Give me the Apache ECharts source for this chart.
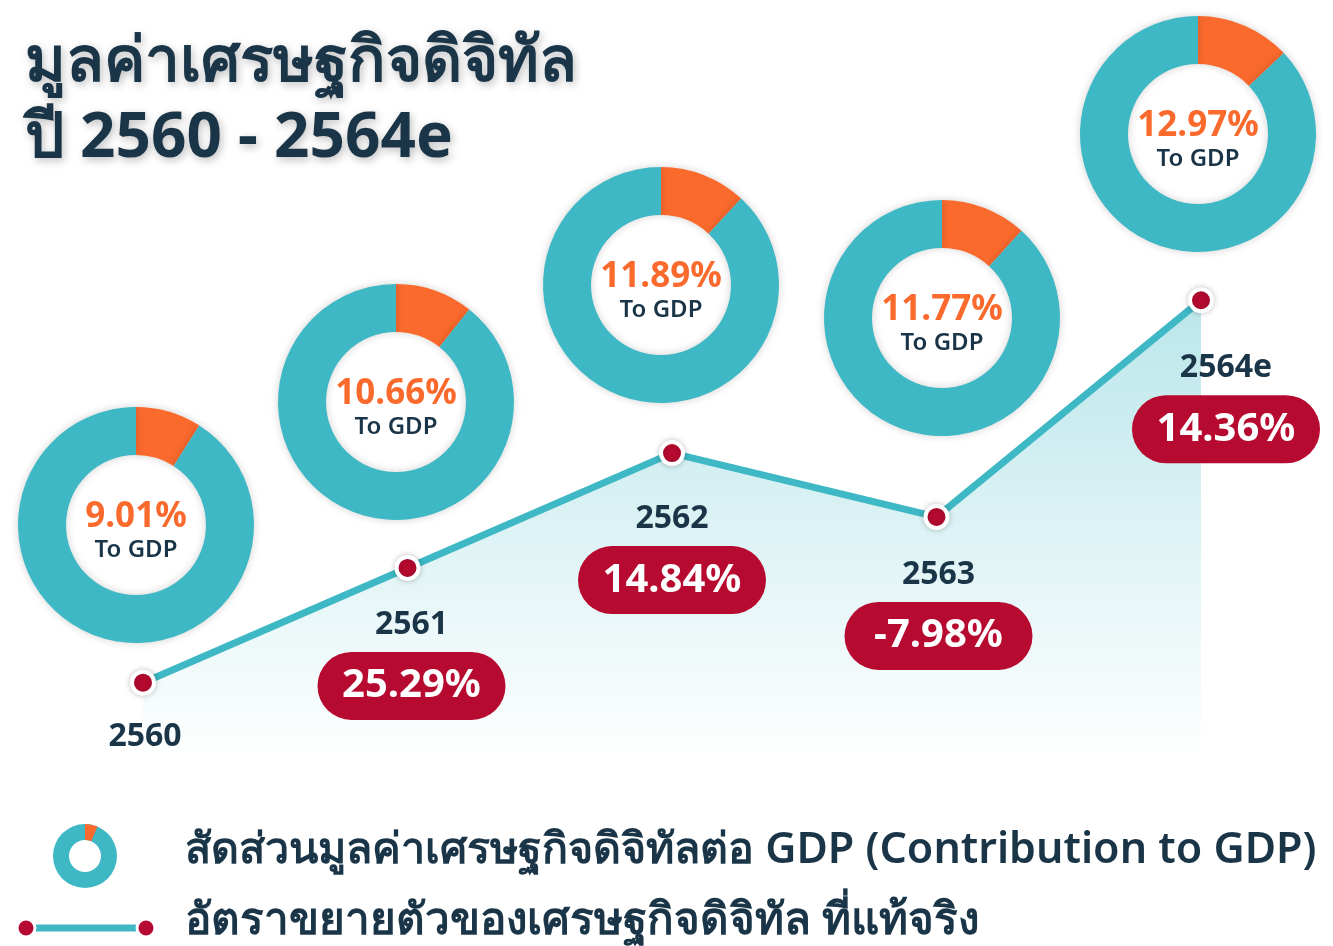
<!DOCTYPE html>
<html>
<head>
<meta charset="utf-8">
<title>มูลค่าเศรษฐกิจดิจิทัล</title>
<script src="https://cdn.jsdelivr.net/npm/echarts@6/dist/echarts.min.js"></script>
<style>
  html, body { margin: 0; padding: 0; background: #fff; }
  #chart { width: 1333px; height: 946px; }
</style>
</head>
<body>
<div id="chart"></div>
<script>
// ปี
var years = ['2560', '2561', '2562', '2563', '2564e'];
// สัดส่วนต่อ GDP (%)
var gdpShare = [9.01, 10.66, 11.89, 11.77, 12.97];
// อัตราขยายตัวที่แท้จริง (%) - 2560 ไม่มีค่า
var growth = [null, 25.29, 14.84, -7.98, 14.36];
// ระดับของเส้น (ดัชนีอ่านจากภาพ)
var lineLevel = [13.8, 34.3, 54.8, 43.4, 82.1];

var NAVY = '#1b3548';
var TEAL = '#3db8c4';
var ORANGE = '#fb6a2d';
var RED = '#b70a30';
var FONT = '"Noto Sans", sans-serif';

// วางโดนัทแต่ละปี
var donutCenters = [[136, 525], [396, 402], [661, 285], [942, 318], [1198, 134]];
// ระยะเลื่อนป้ายปี/อัตราขยายตัว
var labelOffsets = [[2, -3], [4, 0], [0, 9], [2, 1], [25, 11]];

var chart = echarts.init(document.getElementById('chart'));

var pieSeries = gdpShare.map(function (v, i) {
  return {
    type: 'pie',
    center: donutCenters[i],
    radius: [70, 118],
    startAngle: 90,
    silent: true,
    z: 3,
    itemStyle: { shadowBlur: 8, shadowColor: 'rgba(0,0,0,0.18)' },
    labelLine: { show: false },
    data: [
      {
        value: v,
        itemStyle: { color: ORANGE },
        label: {
          show: true,
          position: 'center',
          offset: [0, 6],
          formatter: '{p|' + v.toFixed(2) + '%}\n{t|To GDP}',
          rich: {
            p: { fontFamily: FONT, fontSize: 35, fontWeight: 'bold', color: ORANGE, lineHeight: 38 },
            t: { fontFamily: FONT, fontSize: 24, fontWeight: 600, color: NAVY, lineHeight: 28 }
          }
        }
      },
      { value: 100 - v, itemStyle: { color: TEAL }, label: { show: false } }
    ]
  };
});

var lineData = lineLevel.map(function (v, i) {
  return {
    value: v,
    label: { offset: labelOffsets[i] }
  };
});

chart.setOption({
  backgroundColor: '#fff',
  animation: false,
  title: {
    text: 'มูลค่าเศรษฐกิจดิจิทัล\nปี 2560 - 2564e',
    left: 20,
    top: 20,
    textStyle: {
      fontFamily: FONT,
      fontSize: 62,
      fontWeight: 'bold',
      color: NAVY,
      lineHeight: 76,
      textShadowColor: 'rgba(0,0,0,0.25)',
      textShadowBlur: 8,
      textShadowOffsetX: 2,
      textShadowOffsetY: 3
    }
  },
  grid: { left: 143, right: 132, top: 200, bottom: 186 },
  xAxis: {
    type: 'category',
    data: years,
    boundaryGap: false,
    show: false
  },
  yAxis: {
    type: 'value',
    min: 0,
    max: 100,
    show: false
  },
  series: [
    {
      type: 'line',
      data: lineData,
      z: 4,
      symbol: 'circle',
      symbolSize: 22,
      lineStyle: { color: TEAL, width: 7 },
      itemStyle: {
        color: RED,
        borderColor: '#fff',
        borderWidth: 4,
        shadowBlur: 6,
        shadowColor: 'rgba(0,0,0,0.2)'
      },
      areaStyle: {
        color: new echarts.graphic.LinearGradient(0, 0, 0, 1, [
          { offset: 0, color: 'rgba(61,184,196,0.5)' },
          { offset: 1, color: 'rgba(61,184,196,0)' }
        ])
      },
      label: {
        show: true,
        position: 'bottom',
        distance: 7,
        align: 'center',
        formatter: function (p) {
          var g = growth[p.dataIndex];
          var s = '{y|' + years[p.dataIndex] + '}';
          if (g !== null) {
            s += '\n{b|' + g.toFixed(2) + '%}';
          }
          return s;
        },
        rich: {
          y: { fontFamily: FONT, fontSize: 32, fontWeight: 'bold', color: NAVY, lineHeight: 74, align: 'center' },
          b: {
            fontFamily: FONT, fontSize: 40, fontWeight: 'bold', color: '#fff',
            backgroundColor: RED, borderRadius: 34,
            width: 188, height: 48, padding: [10, 0], align: 'center', lineHeight: 48
          }
        }
      }
    }
  ].concat(pieSeries),
  graphic: [
    // ไอคอนโดนัท
    { type: 'ring', shape: { cx: 85, cy: 856, r: 32, r0: 16 }, style: { fill: TEAL } },
    { type: 'sector', shape: { cx: 85, cy: 856, r: 32, r0: 16, startAngle: -Math.PI / 2, endAngle: -Math.PI / 2 + 0.4 }, style: { fill: ORANGE } },
    { type: 'text', left: 185, top: 829, style: { text: 'สัดส่วนมูลค่าเศรษฐกิจดิจิทัลต่อ GDP (Contribution to GDP)', fontFamily: FONT, fontSize: 43, fontWeight: 600, fill: NAVY } },
    // ไอคอนเส้น
    { type: 'line', shape: { x1: 26, y1: 928, x2: 146, y2: 928 }, style: { stroke: TEAL, lineWidth: 7 } },
    { type: 'circle', shape: { cx: 26, cy: 928, r: 9 }, style: { fill: RED, stroke: '#fff', lineWidth: 3 } },
    { type: 'circle', shape: { cx: 146, cy: 928, r: 9 }, style: { fill: RED, stroke: '#fff', lineWidth: 3 } },
    { type: 'text', left: 185, top: 899, style: { text: 'อัตราขยายตัวของเศรษฐกิจดิจิทัล ที่แท้จริง', fontFamily: FONT, fontSize: 44, fontWeight: 600, fill: NAVY } }
  ]
});
</script>
</body>
</html>
